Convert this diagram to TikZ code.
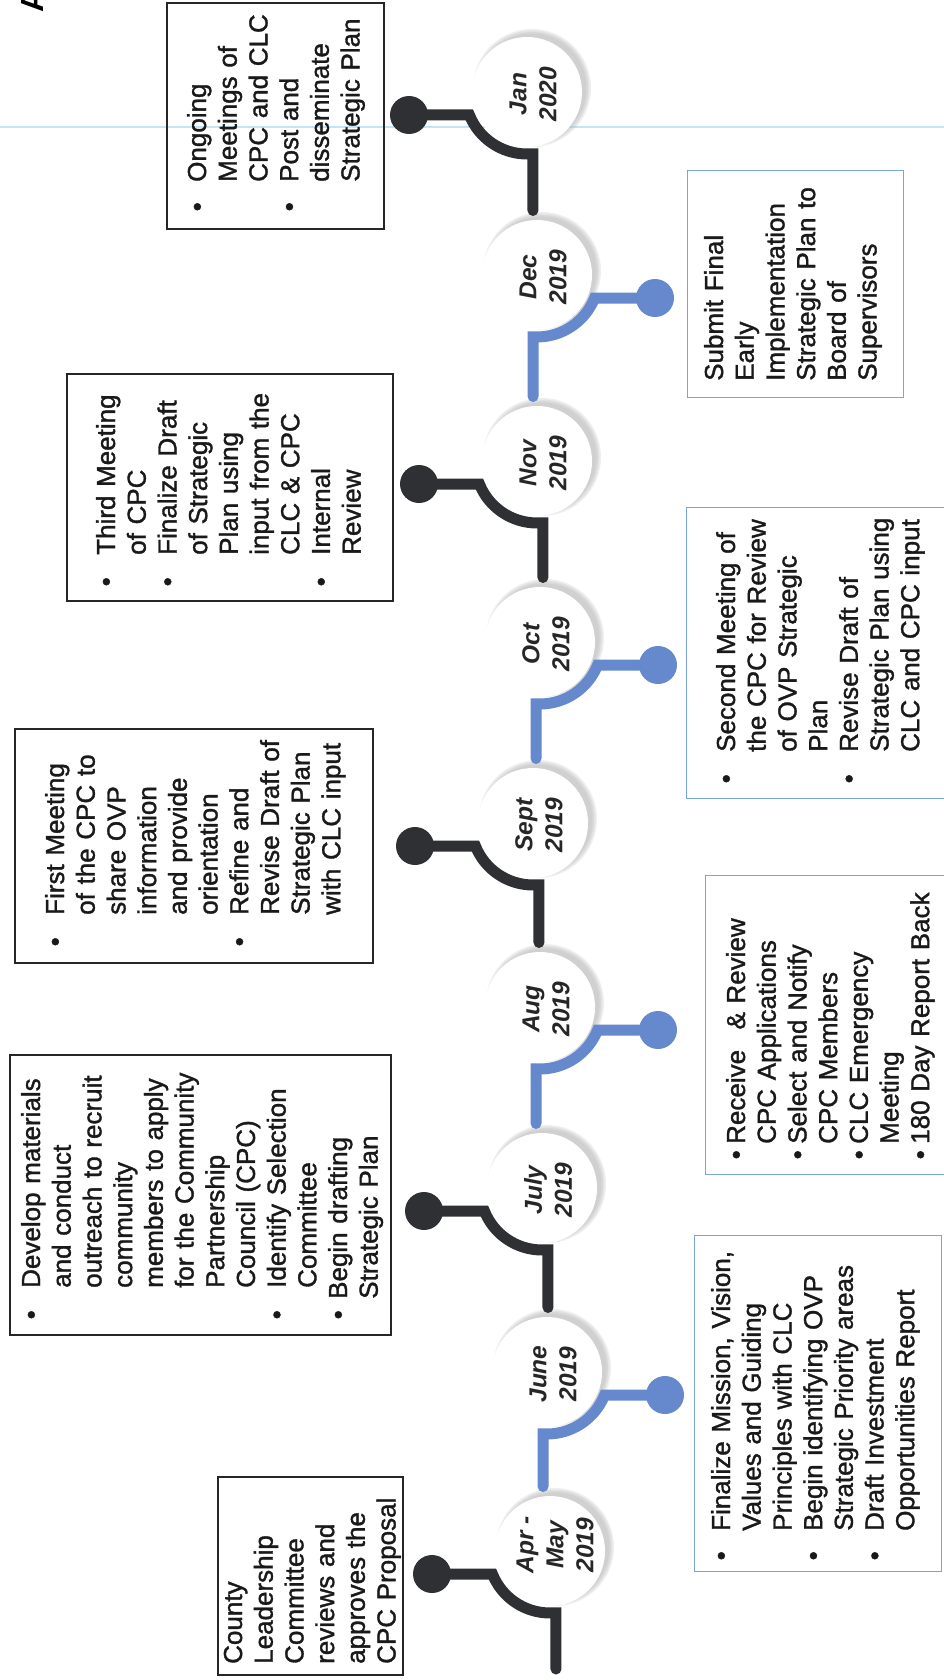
\documentclass[tikz,border=0pt]{standalone}
\usepackage{fontspec}
\setmainfont{Liberation Sans}
\newfontfamily\bodyfont{Liberation Sans}[UprightFeatures={FakeBold=1.3}]
\usetikzlibrary{calc}
\definecolor{conblk}{HTML}{2E3033}
\definecolor{conblu}{HTML}{6688CC}
\definecolor{boxblu}{HTML}{7AA3D8}
\definecolor{scanline}{HTML}{C4E4F7}
\definecolor{shad}{HTML}{B0B0B0}
\newcommand\bi[2]{\makebox[#2pt][l]{\hspace*{#1pt}\textbullet}}
\newcommand\ci[1]{\hspace*{#1pt}}
\begin{document}
\begin{tikzpicture}[x=1pt,y=-1pt,
  boxblack/.style={draw=black!85, line width=2pt, inner sep=0pt, anchor=north west},
  boxblue/.style={draw=boxblu, line width=1.3pt, inner sep=0pt, anchor=north west},
  boxtext/.style={rotate=90, anchor=base west, inner sep=0pt, text width=420pt, align=left, font=\bodyfont\fontsize{26}{30.7}\selectfont, text=black!90},
  month/.style={circle, fill=white, minimum size=110pt, inner sep=0pt},
  monthtext/.style={rotate=90, align=center, inner sep=0pt, font=\fontsize{24.5}{30}\selectfont\bfseries\itshape, text=black!85},
  ball/.style={circle, minimum size=38pt, inner sep=0pt},
  conb/.style={draw=conblk, line width=11pt, line cap=round, line join=miter},
  conu/.style={draw=conblu, line width=11pt, line cap=round, line join=miter},
]
\useasboundingbox (0,0) rectangle (944,1680);
\fill[white] (0,0) rectangle (944,1680);
% faint scan line
\draw[scanline, line width=2.5pt] (0,127) -- (944,127);
% circle centres
\coordinate (c1) at (527,92);
\coordinate (c2) at (537,275);
\coordinate (c3) at (537,461);
\coordinate (c4) at (540,642);
\coordinate (c5) at (533,823);
\coordinate (c6) at (540,1007);
\coordinate (c7) at (542,1188);
\coordinate (c8) at (547,1372);
\coordinate (c9) at (550,1551);
% shadows (offset up-right)
\foreach \i in {1,...,9}{
  \foreach \r in {59,57.5,56,54.5}{
    \fill[shad, opacity=0.2] ($(c\i)+(5,-4)$) circle[radius=\r];
  }
}
% month circles
\foreach \i in {1,...,9}{ \node[month] (m\i) at (c\i) {}; }
% connector targets
\foreach \i in {2,...,9}{ \coordinate (t\i) at ($(c\i)+(0,-64.5)$); }
\coordinate (tend) at (557,1669);
% balls
\node[ball] (b1) at ($(c1)+(-118,23)$) {};
\node[ball] (b2) at ($(c2)+(118,23)$) {};
\node[ball] (b3) at ($(c3)+(-118,23)$) {};
\node[ball] (b4) at ($(c4)+(118,23)$) {};
\node[ball] (b5) at ($(c5)+(-118,23)$) {};
\node[ball] (b6) at ($(c6)+(118,23)$) {};
\node[ball] (b7) at ($(c7)+(-118,23)$) {};
\node[ball] (b8) at ($(c8)+(118,23)$) {};
\node[ball] (b9) at ($(c9)+(-118,23)$) {};
% connectors
\draw[conb] (b1.center) -- ($(c1)+(-57.6,23)$) arc[start angle=158.2,end angle=90,radius=62] -- ++(6,0) coordinate (j1) -- (j1 |- t2);
\draw[conu] (b2.center) -- ($(c2)+(57.6,23)$) arc[start angle=21.8,end angle=90,radius=62] -- ++(-4,0) coordinate (j2) -- (j2 |- t3);
\draw[conb] (b3.center) -- ($(c3)+(-57.6,23)$) arc[start angle=158.2,end angle=90,radius=62] -- ++(6,0) coordinate (j3) -- (j3 |- t4);
\draw[conu] (b4.center) -- ($(c4)+(57.6,23)$) arc[start angle=21.8,end angle=90,radius=62] -- ++(-4,0) coordinate (j4) -- (j4 |- t5);
\draw[conb] (b5.center) -- ($(c5)+(-57.6,23)$) arc[start angle=158.2,end angle=90,radius=62] -- ++(6,0) coordinate (j5) -- (j5 |- t6);
\draw[conu] (b6.center) -- ($(c6)+(57.6,23)$) arc[start angle=21.8,end angle=90,radius=62] -- ++(-4,0) coordinate (j6) -- (j6 |- t7);
\draw[conb] (b7.center) -- ($(c7)+(-57.6,23)$) arc[start angle=158.2,end angle=90,radius=62] -- ++(6,0) coordinate (j7) -- (j7 |- t8);
\draw[conu] (b8.center) -- ($(c8)+(57.6,23)$) arc[start angle=21.8,end angle=90,radius=62] -- ++(-4,0) coordinate (j8) -- (j8 |- t9);
\draw[conb] (b9.center) -- ($(c9)+(-57.6,23)$) arc[start angle=158.2,end angle=90,radius=62] -- ++(6,0) coordinate (j9) -- (j9 |- tend);
% ball fills
\foreach \i in {1,3,5,7,9}{ \fill[conblk] (b\i) circle[radius=19]; }
\foreach \i in {2,4,6,8}{ \fill[conblu] (b\i) circle[radius=19]; }
% month labels
\node[monthtext] (l1) at ($(c1)+(6,2)$) {Jan\\2020};
\node[monthtext] (l2) at ($(c2)+(6,2)$) {Dec\\2019};
\node[monthtext] (l3) at ($(c3)+(6,2)$) {Nov\\2019};
\node[monthtext] (l4) at ($(c4)+(6,2)$) {Oct\\2019};
\node[monthtext] (l5) at ($(c5)+(6,2)$) {Sept\\2019};
\node[monthtext] (l6) at ($(c6)+(6,2)$) {Aug\\2019};
\node[monthtext] (l7) at ($(c7)+(6,2)$) {July\\2019};
\node[monthtext] (l8) at ($(c8)+(6,2)$) {June\\2019};
\node[monthtext] (l9) at ($(c9)+(5,-6)$) {Apr -\\May\\2019};
% boxes
\node[boxblack, minimum width=217pt, minimum height=226pt] (boxI) at (166,2) {};
\node[boxblue,  minimum width=216pt, minimum height=227pt] (boxH) at (687,170) {};
\node[boxblack, minimum width=326pt, minimum height=227pt] (boxG) at (66,373) {};
\node[boxblue,  minimum width=262pt, minimum height=291pt] (boxF) at (686,507) {};
\node[boxblack, minimum width=358pt, minimum height=234pt] (boxE) at (14,728) {};
\node[boxblue,  minimum width=243pt, minimum height=299pt] (boxD) at (705,875) {};
\node[boxblack, minimum width=381pt, minimum height=280pt] (boxC) at (9,1054) {};
\node[boxblue,  minimum width=247pt, minimum height=336pt] (boxB) at (694,1235) {};
\node[boxblack, minimum width=185pt, minimum height=198pt] (boxA) at (217,1476) {};
% box texts
\node[boxtext] (tI) at (206,228) {\bi{16.5}{46}Ongoing\\\ci{46}Meetings of\\\ci{46}CPC and CLC\\\bi{16.5}{46}Post and\\\ci{46}disseminate\\\ci{46}Strategic Plan};
\node[boxtext] (tH) at (723,397) {\ci{16}Submit Final\\\ci{16}Early\\\ci{16}Implementation\\\ci{16}Strategic Plan to\\\ci{16}Board of\\\ci{16}Supervisors};
\node[boxtext] (tG) at (115,600) {\bi{13.5}{45}Third Meeting\\\ci{45}of CPC\\\bi{13.5}{45}Finalize Draft\\\ci{45}of Strategic\\\ci{45}Plan using\\\ci{45}input from the\\\ci{45}CLC \& CPC\\\bi{13.5}{45}Internal\\\ci{45}Review};
\node[boxtext] (tF) at (735,798) {\bi{14.5}{46}Second Meeting of\\\ci{46}the CPC for Review\\\ci{46}of OVP Strategic\\\ci{46}Plan\\\bi{14.5}{46}Revise Draft of\\\ci{46}Strategic Plan using\\\ci{46}CLC and CPC input};
\node[boxtext] (tE) at (64,962) {\bi{15.5}{47}First Meeting\\\ci{47}of the CPC to\\\ci{47}share OVP\\\ci{47}information\\\ci{47}and provide\\\ci{47}orientation\\\bi{15.5}{47}Refine and\\\ci{47}Revise Draft of\\\ci{47}Strategic Plan\\\ci{47}with CLC input};
\node[boxtext] (tD) at (745,1174) {\bi{14.5}{30}Receive\hspace{0.45em} \& Review\\\ci{30}CPC Applications\\\bi{14.5}{30}Select and Notify\\\ci{30}CPC Members\\\bi{14.5}{30}CLC Emergency\\\ci{30}Meeting\\\bi{14.5}{30}180 Day Report Back};
\node[boxtext] (tC) at (40,1334) {\bi{14.5}{46}Develop materials\\\ci{46}and conduct\\\ci{46}outreach to recruit\\\ci{46}community\\\ci{46}members to apply\\\ci{46}for the Community\\\ci{46}Partnership\\\ci{46}Council (CPC)\\\bi{14.5}{46}Identify Selection\\\ci{46}Committee\\\bi{14.5}{35}Begin drafting\\\ci{35}Strategic Plan};
\node[boxtext] (tB) at (730,1571) {\bi{10.5}{40}Finalize Mission, Vision,\\\ci{40}Values and Guiding\\\ci{40}Principles with CLC\\\bi{10.5}{40}Begin identifying OVP\\\ci{40}Strategic Priority areas\\\bi{10.5}{40}Draft Investment\\\ci{40}Opportunities Report};
\node[boxtext] (tA) at (242,1674) {\ci{10}County\\\ci{10}Leadership\\\ci{10}Committee\\\ci{10}reviews and\\\ci{10}approves the\\\ci{10}CPC Proposal};
% corner letter
\node[rotate=90, anchor=base west, inner sep=0pt, font=\fontsize{32}{32}\selectfont\bfseries] (corner) at (43,13) {A};
\end{tikzpicture}
\end{document}
